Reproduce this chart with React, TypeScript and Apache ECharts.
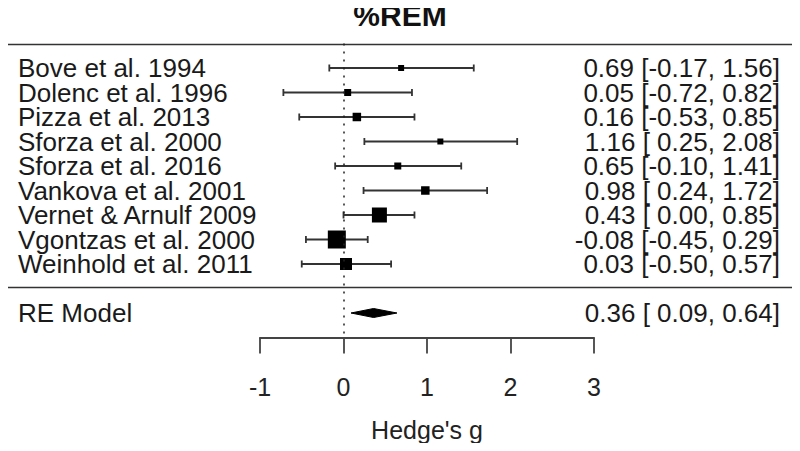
import React, { useEffect, useRef } from "react";
import * as echarts from "echarts";

const studies = [
  "Bove et al. 1994",
  "Dolenc et al. 1996",
  "Pizza et al. 2013",
  "Sforza et al. 2000",
  "Sforza et al. 2016",
  "Vankova et al. 2001",
  "Vernet & Arnulf 2009",
  "Vgontzas et al. 2000",
  "Weinhold et al. 2011",
];
const estimates = [0.69, 0.05, 0.16, 1.16, 0.65, 0.98, 0.43, -0.08, 0.03];
const lower = [-0.17, -0.72, -0.53, 0.25, -0.1, 0.24, 0.0, -0.45, -0.5];
const upper = [1.56, 0.82, 0.85, 2.08, 1.41, 1.72, 0.85, 0.29, 0.57];
const weights = [6, 7, 8.5, 6, 7, 8.5, 15, 18, 12];

const modelLabel = "RE Model";
const modelEstimate = 0.36;
const modelLower = 0.09;
const modelUpper = 0.64;
const modelRow = 10;

const xTicks = [-1, 0, 1, 2, 3];
const title = "%REM";
const xName = "Hedge's g";

const fmt = (v: number) => v.toFixed(2);
const ciText = (e: number, l: number, u: number) =>
  `${fmt(e)} [${l < 0 ? "" : " "}${fmt(l)}, ${fmt(u)}]`;

const leftLabels: Record<number, string> = {};
const rightLabels: Record<number, string> = {};
studies.forEach((s, i) => {
  leftLabels[i] = s;
  rightLabels[i] = ciText(estimates[i], lower[i], upper[i]);
});
leftLabels[modelRow] = modelLabel;
rightLabels[modelRow] = ciText(modelEstimate, modelLower, modelUpper);

const FONT = "'Liberation Sans', Arial, sans-serif";

export default function App() {
  const ref = useRef<HTMLDivElement>(null);
  useEffect(() => {
    if (!ref.current) return;
    const chart = echarts.init(ref.current, null, { renderer: "svg" });
    const studyData = studies.map((_, i) => [
      estimates[i],
      lower[i],
      upper[i],
      i,
      weights[i],
    ]);
    chart.setOption({
      animation: false,
      backgroundColor: "#ffffff",
      textStyle: { fontFamily: FONT },
      title: {
        text: title,
        left: "center",
        top: 0,
        padding: 0,
        textStyle: {
          fontFamily: FONT,
          fontSize: 30,
          fontWeight: "bold",
          color: "#111",
        },
      },
      grid: { left: 260, right: 206, top: 43.5, bottom: 113.5 },
      xAxis: {
        type: "value",
        min: xTicks[0],
        max: xTicks[xTicks.length - 1],
        interval: 1,
        name: xName,
        nameLocation: "middle",
        nameGap: 80,
        nameTextStyle: { fontFamily: FONT, fontSize: 25, color: "#222" },
        axisLine: { show: true, onZero: false, lineStyle: { color: "#444", width: 1.8 } },
        axisTick: { show: true, length: 16, lineStyle: { color: "#444", width: 1.8 } },
        axisLabel: { fontFamily: FONT, fontSize: 25, color: "#222", margin: 37 },
        splitLine: { show: false },
      },
      yAxis: [
        {
          type: "value",
          inverse: true,
          min: -1,
          max: 11,
          interval: 1,
          position: "left",
          axisLine: { show: false },
          axisTick: { show: false },
          splitLine: { show: false },
          axisLabel: {
            align: "left",
            margin: 242,
            fontFamily: FONT,
            fontSize: 26,
            lineHeight: 22,
            color: "#1a1a1a",
            formatter: (v: number) => leftLabels[v] ?? "",
          },
        },
        {
          type: "value",
          inverse: true,
          min: -1,
          max: 11,
          interval: 1,
          position: "right",
          axisLine: { show: false },
          axisTick: { show: false },
          splitLine: { show: false },
          axisLabel: {
            align: "right",
            margin: 186,
            fontFamily: FONT,
            fontSize: 26,
            lineHeight: 22,
            color: "#1a1a1a",
            formatter: (v: number) => rightLabels[v] ?? "",
          },
        },
      ],
      graphic: [
        {
          type: "line",
          shape: { x1: 3, y1: 44.5, x2: 795, y2: 44.5 },
          style: { stroke: "#333", lineWidth: 1.5 },
        },
        {
          type: "line",
          shape: { x1: 3, y1: 287.5, x2: 795, y2: 287.5 },
          style: { stroke: "#333", lineWidth: 1.5 },
        },
      ],
      series: [
        {
          type: "custom",
          data: studyData,
          encode: { x: [0, 1, 2], y: 3 },
          renderItem: (params: any, api: any) => {
            const row = api.value(3);
            const pe = api.coord([api.value(0), row]);
            const pl = api.coord([api.value(1), row]);
            const pu = api.coord([api.value(2), row]);
            const s = api.value(4);
            const y = pe[1];
            const cap = 3.5;
            const lineStyle = { stroke: "#333", lineWidth: 1.8 };
            return {
              type: "group",
              children: [
                { type: "line", shape: { x1: pl[0], y1: y, x2: pu[0], y2: y }, style: lineStyle },
                { type: "line", shape: { x1: pl[0], y1: y - cap, x2: pl[0], y2: y + cap }, style: lineStyle },
                { type: "line", shape: { x1: pu[0], y1: y - cap, x2: pu[0], y2: y + cap }, style: lineStyle },
                {
                  type: "rect",
                  shape: { x: pe[0] - s / 2, y: y - s / 2, width: s, height: s },
                  style: { fill: "#000" },
                },
              ],
            };
          },
          markLine: {
            silent: true,
            symbol: "none",
            label: { show: false },
            lineStyle: { color: "#222", type: [2, 6], width: 1.5 },
            data: [{ xAxis: 0 }],
          },
        },
        {
          type: "custom",
          data: [[modelEstimate, modelLower, modelUpper, modelRow]],
          encode: { x: [0, 1, 2], y: 3 },
          renderItem: (params: any, api: any) => {
            const row = api.value(3);
            const pe = api.coord([api.value(0), row]);
            const pl = api.coord([api.value(1), row]);
            const pu = api.coord([api.value(2), row]);
            const h = 4.5;
            return {
              type: "polygon",
              shape: {
                points: [
                  [pl[0], pe[1]],
                  [pe[0], pe[1] - h],
                  [pu[0], pe[1]],
                  [pe[0], pe[1] + h],
                ],
              },
              style: { fill: "#000", stroke: "#000", lineWidth: 1 },
            };
          },
        },
      ],
    });
    return () => chart.dispose();
  }, []);
  return <div ref={ref} style={{ width: 800, height: 451, margin: -8 }} />;
}
